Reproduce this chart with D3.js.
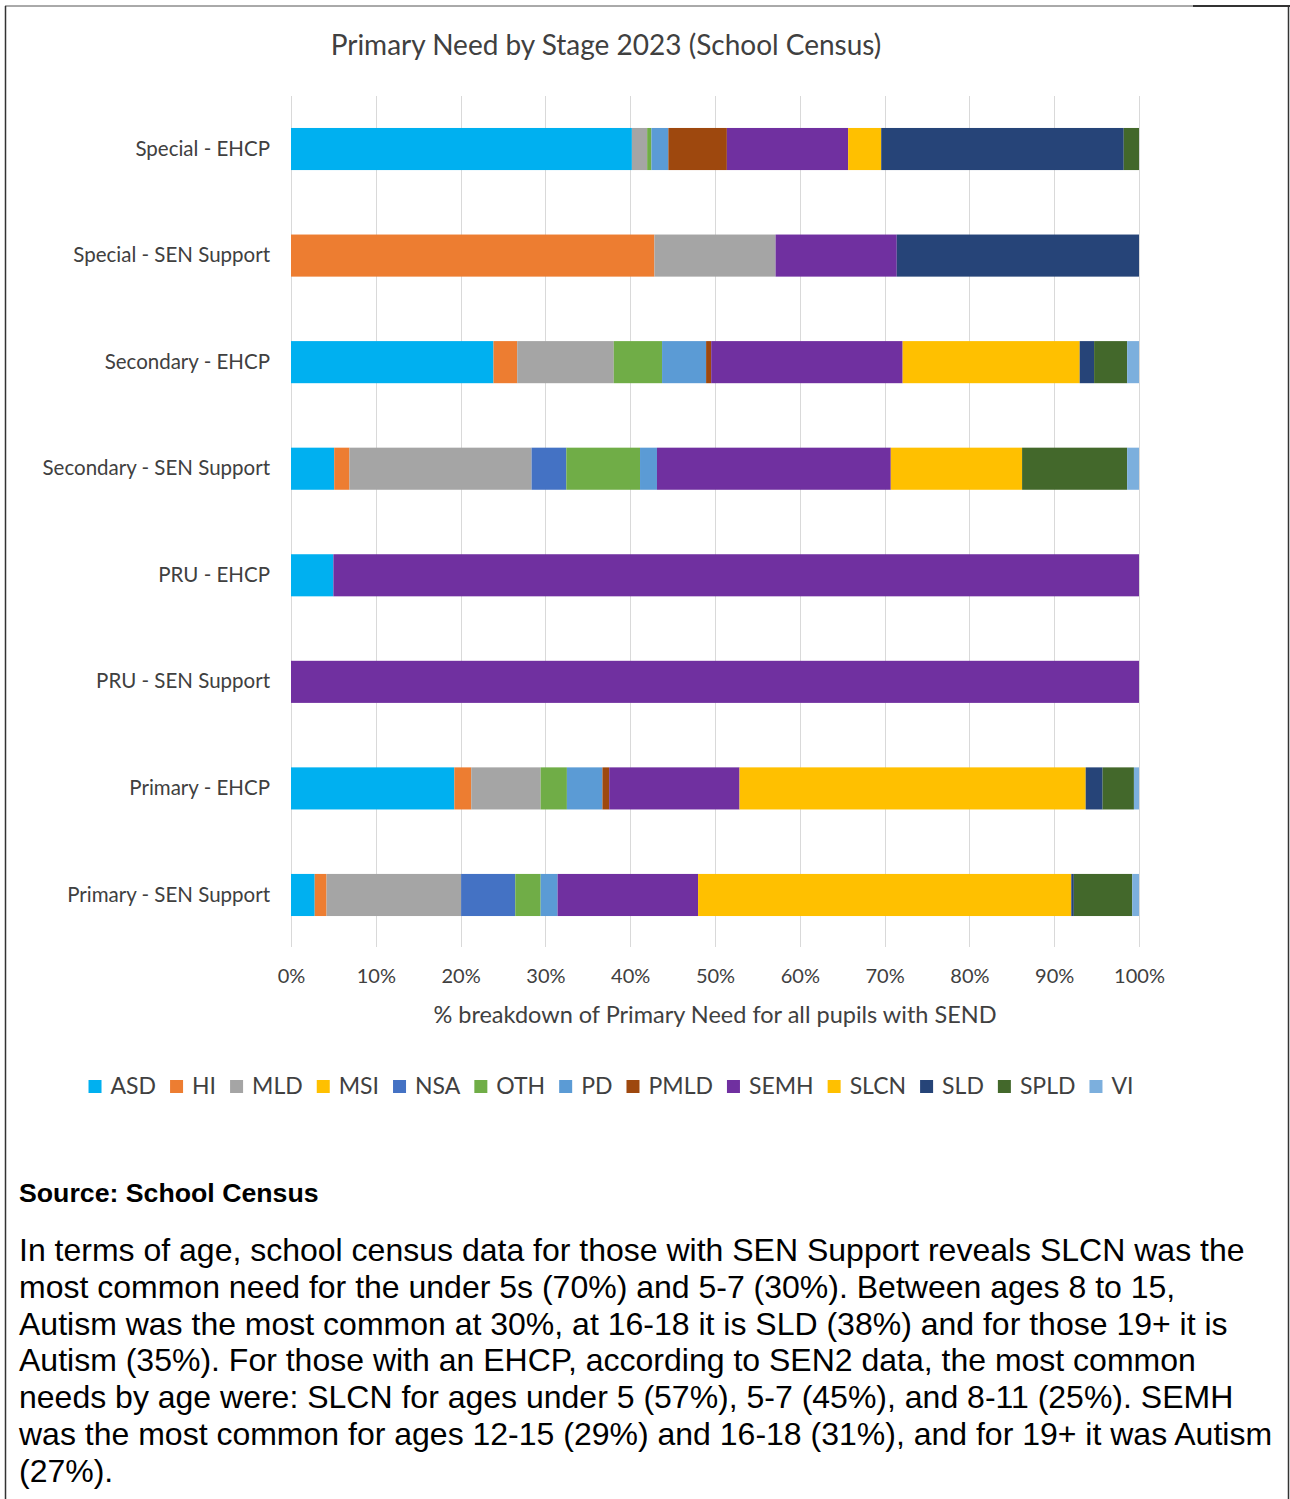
<!DOCTYPE html>
<html>
<head>
<meta charset="utf-8">
<script src="https://cdn.jsdelivr.net/npm/d3@7"></script>
<style>
  body { margin: 0; background: #fff; }
  svg { display: block; }
</style>
</head>
<body>
<div id="chart"></div>
<script>
/* Data (percent of pupils per stage) */
var stages = ["Special - EHCP", "Special - SEN Support", "Secondary - EHCP", "Secondary - SEN Support",
              "PRU - EHCP", "PRU - SEN Support", "Primary - EHCP", "Primary - SEN Support"];
var needs = ["ASD", "HI", "MLD", "MSI", "NSA", "OTH", "PD", "PMLD", "SEMH", "SLCN", "SLD", "SPLD", "VI"];
var needColors = ["#00B0F0", "#ED7D31", "#A5A5A5", "#FFC000", "#4472C4", "#70AD47", "#5B9BD5",
                  "#9E480E", "#7030A0", "#FFC000", "#264478", "#43682B", "#7CAFDD"];

var ASD  = [40.2, 0,     23.9, 5.1,  5,  0,   19.3, 2.8];
var HI   = [0,    42.86, 2.8,  1.8,  0,  0,   2.0,  1.4];
var MLD  = [1.8,  14.29, 11.4, 21.5, 0,  0,   8.2,  15.9];
var MSI  = [0,    0,     0,    0,    0,  0,   0,    0];
var NSA  = [0,    0,     0,    4.1,  0,  0,   0,    6.4];
var OTH  = [0.5,  0,     5.7,  8.7,  0,  0,   3.1,  3.0];
var PD   = [2.0,  0,     5.2,  2.0,  0,  0,   4.2,  2.0];
var PMLD = [6.9,  0,     0.6,  0,    0,  0,   0.8,  0];
var SEMH = [14.3, 14.29, 22.6, 27.6, 95, 100, 15.4, 16.6];
var SLCN = [3.9,  0,     20.9, 15.5, 0,  0,   40.9, 44.1];
var SLD  = [28.6, 28.57, 1.7,  0,    0,  0,   2.0,  0.3];
var SPLD = [1.8,  0,     3.9,  12.4, 0,  0,   3.7,  6.9];
var VI   = [0,    0,     1.4,  1.4,  0,  0,   0.6,  0.8];

var xTicks = [0, 0.1, 0.2, 0.3, 0.4, 0.5, 0.6, 0.7, 0.8, 0.9, 1];

var textLines = [
  "In terms of age, school census data for those with SEN Support reveals SLCN was the",
  "most common need for the under 5s (70%) and 5-7 (30%). Between ages 8 to 15,",
  "Autism was the most common at 30%, at 16-18 it is SLD (38%) and for those 19+ it is",
  "Autism (35%). For those with an EHCP, according to SEN2 data, the most common",
  "needs by age were: SLCN for ages under 5 (57%), 5-7 (45%), and 8-11 (25%). SEMH",
  "was the most common for ages 12-15 (29%) and 16-18 (31%), and for 19+ it was Autism",
  "(27%)."
];

var width = 1290, height = 1499;
var chartFont = "Lato, 'Open Sans', sans-serif";
var textColor = "#404040";

var svg = d3.select("#chart").append("svg")
  .attr("width", width)
  .attr("height", height);

// page frame
svg.append("line").attr("x1", 5).attr("x2", 1290).attr("y1", 6).attr("y2", 6)
  .attr("stroke", "#555").attr("stroke-width", 1);
svg.append("line").attr("x1", 1193).attr("x2", 1290).attr("y1", 6).attr("y2", 6)
  .attr("stroke", "#333").attr("stroke-width", 2);
svg.append("line").attr("x1", 5.5).attr("x2", 5.5).attr("y1", 6).attr("y2", height)
  .attr("stroke", "#333").attr("stroke-width", 1.5);
svg.append("line").attr("x1", 1288.5).attr("x2", 1288.5).attr("y1", 6).attr("y2", height)
  .attr("stroke", "#333").attr("stroke-width", 1.5);

// build rows for the stack
var series = {ASD: ASD, HI: HI, MLD: MLD, MSI: MSI, NSA: NSA, OTH: OTH, PD: PD, PMLD: PMLD,
              SEMH: SEMH, SLCN: SLCN, SLD: SLD, SPLD: SPLD, VI: VI};
var rows = stages.map(function(s, i) {
  var r = {stage: s};
  needs.forEach(function(n) { r[n] = series[n][i]; });
  return r;
});

var stacked = d3.stack()
  .keys(needs)
  .offset(d3.stackOffsetExpand)(rows);

var x = d3.scaleLinear().domain([0, 1]).range([291, 1139]);
var y = d3.scaleBand().domain(stages).range([96, 948]).paddingInner(0.605).paddingOuter(0.3);
var color = d3.scaleOrdinal().domain(needs).range(needColors);

// title
svg.append("text")
  .attr("x", 606).attr("y", 55)
  .attr("text-anchor", "middle")
  .style("font-family", chartFont)
  .style("font-size", "28px")
  .style("fill", textColor)
  .text("Primary Need by Stage 2023 (School Census)");

// gridlines
svg.append("g").selectAll("line")
  .data(xTicks)
  .enter()
  .append("line")
  .attr("x1", function(d) { return Math.round(x(d)) + 0.5; })
  .attr("x2", function(d) { return Math.round(x(d)) + 0.5; })
  .attr("y1", 96)
  .attr("y2", 947)
  .attr("stroke", "#D9D9D9")
  .attr("stroke-width", 1);

// bars
svg.append("g").selectAll("g")
  .data(stacked)
  .enter()
  .append("g")
  .attr("fill", function(d) { return color(d.key); })
  .selectAll("rect")
  .data(function(d) { return d; })
  .enter()
  .append("rect")
  .attr("x", function(d) { return x(d[0]); })
  .attr("width", function(d) { return Math.max(0, x(d[1]) - x(d[0])); })
  .attr("y", function(d) { return y(d.data.stage); })
  .attr("height", y.bandwidth());

// axes
var xAxis = svg.append("g")
  .attr("transform", "translate(0,947)")
  .call(d3.axisBottom(x).tickValues(xTicks).tickFormat(d3.format(".0%")).tickSize(0).tickPadding(22));
xAxis.select(".domain").remove();
xAxis.selectAll("text")
  .style("font-family", chartFont)
  .style("font-size", "20px")
  .style("fill", textColor);

var yAxis = svg.append("g")
  .attr("transform", "translate(291,0)")
  .call(d3.axisLeft(y).tickSize(0).tickPadding(21));
yAxis.select(".domain").remove();
yAxis.selectAll("text")
  .style("font-family", chartFont)
  .style("font-size", "20.5px")
  .style("fill", textColor);

// x axis title
svg.append("text")
  .attr("x", 715).attr("y", 1023)
  .attr("text-anchor", "middle")
  .style("font-family", chartFont)
  .style("font-size", "23.5px")
  .style("fill", textColor)
  .text("% breakdown of Primary Need for all pupils with SEND");

// legend
var legend = svg.append("g");
var items = legend.selectAll("g")
  .data(needs)
  .enter()
  .append("g");
items.append("rect")
  .attr("width", 13).attr("height", 13)
  .attr("y", -14)
  .attr("fill", function(d) { return color(d); });
items.append("text")
  .attr("x", 22)
  .style("font-family", chartFont)
  .style("font-size", "23px")
  .style("fill", textColor)
  .text(function(d) { return d; });
var pos = 0;
var offsets = [];
items.each(function(d) {
  var w = d3.select(this).select("text").node().getComputedTextLength();
  offsets.push(pos);
  pos += 22 + w + 14;
});
var legendWidth = pos - 14;
var legendStart = 611 - legendWidth / 2;
items.attr("transform", function(d, i) { return "translate(" + (legendStart + offsets[i]) + ",1094)"; });

// source and body text
svg.append("text")
  .attr("x", 19).attr("y", 1202)
  .style("font-family", "'Liberation Sans', Arial, sans-serif")
  .style("font-weight", "bold")
  .style("font-size", "26.7px")
  .style("fill", "#000")
  .text("Source: School Census");

svg.append("g").selectAll("text")
  .data(textLines)
  .enter()
  .append("text")
  .attr("x", 19)
  .attr("y", function(d, i) { return 1261 + i * 36.8; })
  .style("font-family", "'Liberation Sans', Arial, sans-serif")
  .style("font-size", "32px")
  .style("fill", "#000")
  .text(function(d) { return d; });
</script>
</body>
</html>
